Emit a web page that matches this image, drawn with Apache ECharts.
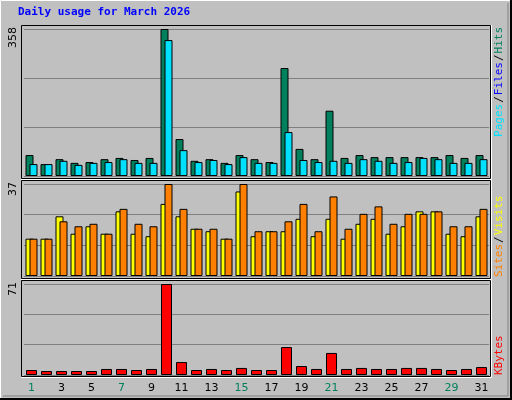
<!DOCTYPE html>
<html>
<head>
<meta charset="utf-8">
<script src="https://cdn.jsdelivr.net/npm/echarts@6/dist/echarts.min.js"></script>
<style>html,body{margin:0;padding:0;background:#c0c0c0}#main{width:512px;height:400px}</style>
</head>
<body>
<div id="main"></div>
<script>
var days = [];
for (var d = 1; d <= 31; d++) days.push(String(d));
var weekendDays = ['1', '7', '8', '14', '15', '21', '22', '28', '29'];

var hits = [51, 29, 41, 32, 34, 41, 44, 39, 44, 358, 90, 37, 41, 32, 51, 41, 34, 263, 66, 41, 159, 44, 51, 46, 46, 46, 46, 46, 51, 44, 51];
var files = [29, 29, 37, 27, 32, 34, 41, 32, 32, 331, 63, 34, 39, 29, 46, 32, 32, 107, 39, 34, 37, 32, 41, 37, 32, 34, 44, 41, 32, 32, 41];
var sites = [15, 15, 24, 17, 20, 17, 26, 17, 16, 29, 24, 19, 18, 15, 34, 16, 18, 18, 23, 16, 23, 15, 21, 23, 17, 20, 26, 26, 17, 16, 24];
var visits = [15, 15, 22, 20, 21, 17, 27, 21, 20, 37, 27, 19, 19, 15, 37, 18, 18, 22, 29, 18, 32, 19, 25, 28, 21, 25, 25, 26, 20, 20, 27];
var kbytes = [3.9, 3.1, 3.1, 3.1, 3.1, 4.7, 4.7, 3.9, 4.7, 71, 10.1, 3.9, 4.7, 3.9, 5.5, 3.9, 3.9, 21.8, 7, 4.7, 17.2, 4.7, 5.5, 4.7, 4.7, 5.5, 5.5, 4.7, 3.9, 4.7, 6.2];
var maxLabels = ['358', '37', '71'];

var chart = echarts.init(document.getElementById('main'), null, { renderer: 'canvas' });

var panels = [
  { frameTop: 25, frameBottom: 178, top: 29, bottom: 176, max: 358 },
  { frameTop: 180, frameBottom: 278, top: 184, bottom: 276, max: 37 },
  { frameTop: 280, frameBottom: 376, top: 284, bottom: 375, max: 71 }
];

var grids = [], xAxes = [], yAxes = [], graphics = [];

// outer bevel
graphics.push({ type: 'rect', shape: { x: 0.5, y: 0.5, width: 510, height: 398 }, style: { fill: '#c0c0c0', stroke: '#fff', lineWidth: 1 }, z: -10 });
graphics.push({ type: 'polyline', shape: { points: [[511, 0], [511, 399], [0, 399]] }, style: { stroke: '#000', lineWidth: 2, fill: null }, z: -9 });
graphics.push({ type: 'polyline', shape: { points: [[508, 3], [508, 396], [3, 396]] }, style: { stroke: '#808080', lineWidth: 1, fill: null }, z: -9 });

panels.forEach(function (p, i) {
  grids.push({ left: 24, width: 465, top: p.top, height: p.bottom - p.top });
  xAxes.push({
    type: 'category', gridIndex: i, data: days,
    axisLine: { show: false }, axisTick: { show: false },
    axisLabel: i === 2 ? {
      show: true, margin: 8, fontSize: 11, fontFamily: 'DejaVu Sans',
      color: function (v) { return weekendDays.indexOf(v) >= 0 ? '#00805c' : '#000'; }
    } : { show: false }
  });
  yAxes.push({
    type: 'value', gridIndex: i, min: 0, max: p.max, interval: p.max / 3,
    axisLabel: { show: false }, axisLine: { show: false }, axisTick: { show: false },
    splitLine: { lineStyle: { color: '#808080', width: 1 } }
  });
  graphics.push({
    type: 'rect', shape: { x: 21.5, y: p.frameTop + 0.5, width: 469, height: p.frameBottom - p.frameTop },
    style: { fill: '#c0c0c0', stroke: '#000', lineWidth: 1 }, z: -5
  });
  graphics.push({
    type: 'polyline', shape: { points: [[21, p.frameBottom + 1.5], [491.5, p.frameBottom + 1.5], [491.5, p.frameTop]] },
    style: { stroke: '#fff', lineWidth: 1, fill: null }, z: -5
  });
  graphics.push({
    type: 'text', x: 8, y: p.frameTop + 2, rotation: Math.PI / 2,
    style: { text: maxLabels[i], fill: '#000', font: '11px "DejaVu Sans"', align: 'right', verticalAlign: 'top' }
  });
});

graphics.push({
  type: 'text', x: 18, y: 7,
  style: { text: 'Daily usage for March 2026', fill: '#0000ff', font: 'bold 11px "DejaVu Sans Mono"' }
});
var mono = '11px "DejaVu Sans Mono"';
graphics.push({
  type: 'text', x: 494, y: 27, rotation: Math.PI / 2,
  style: {
    text: '{p|Pages}{s|/}{f|Files}{s|/}{h|Hits}', align: 'right', verticalAlign: 'top',
    rich: { p: { fill: '#00e0ff', font: mono }, s: { fill: '#000', font: mono, padding: [0, 1] }, f: { fill: '#0000ff', font: mono }, h: { fill: '#00805c', font: mono } }
  }
});
graphics.push({
  type: 'text', x: 494, y: 277, rotation: Math.PI / 2,
  style: {
    text: '{a|Sites}{s|/}{b|Visits}', align: 'left', verticalAlign: 'top',
    rich: { a: { fill: '#ff8000', font: mono }, s: { fill: '#000', font: mono, padding: [0, 1] }, b: { fill: '#ffff00', font: mono } }
  }
});
graphics.push({
  type: 'text', x: 494, y: 375, rotation: Math.PI / 2,
  style: { text: 'KBytes', fill: '#ff0000', font: mono, align: 'left', verticalAlign: 'top' }
});

var barBorder = { borderColor: '#000', borderWidth: 1 };
function bar(name, data, idx, color, width, gap) {
  return {
    name: name, type: 'bar', xAxisIndex: idx, yAxisIndex: idx, data: data,
    barWidth: width, barGap: gap, silent: true, animation: false,
    itemStyle: Object.assign({ color: color }, barBorder)
  };
}

var option = {
  backgroundColor: '#c0c0c0',
  animation: false,
  grid: grids, xAxis: xAxes, yAxis: yAxes,
  graphic: { elements: graphics },
  series: [
    bar('Hits', hits, 0, '#00805c', 8, '-50%'),
    bar('Files', files, 0, '#00e0ff', 8, '-50%'),
    bar('Sites', sites, 1, '#ffff00', 8, '-50%'),
    bar('Visits', visits, 1, '#ff8000', 8, '-50%'),
    bar('KBytes', kbytes, 2, '#ff0000', 11, '0%')
  ]
};
chart.setOption(option);
window.addEventListener('resize', chart.resize);
</script>
</body>
</html>
